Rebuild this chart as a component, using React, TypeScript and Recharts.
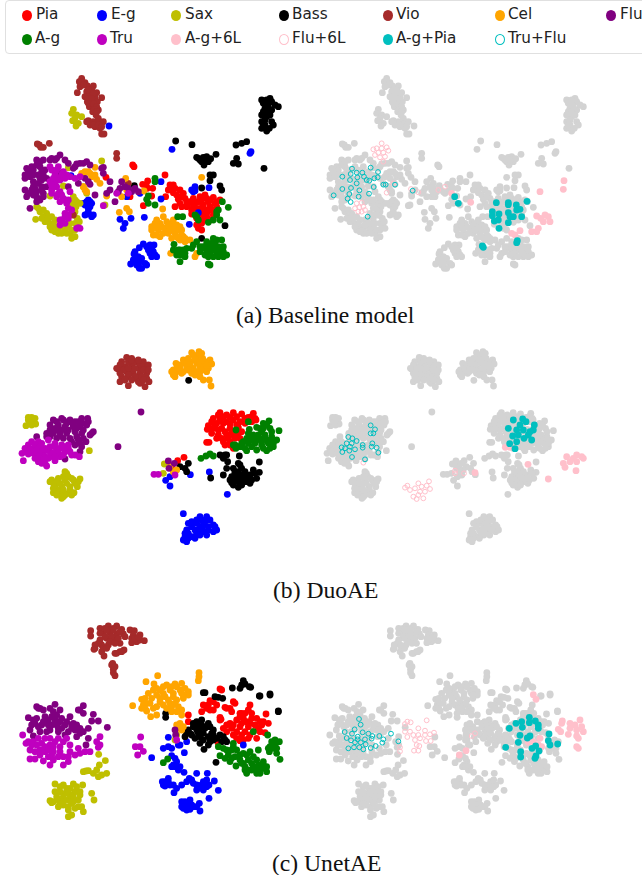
import { ScatterChart, Scatter, XAxis, YAxis } from 'recharts';

type Pt = [number, number];

// values, one list per class and model
const baselinePia: Pt[] = [[398,315],[402,320],[318,352],[443,363],[495,345],[428,373],[442,385],[458,385],[497,410],[430,437],[455,408],[510,375],[525,385],[540,390],[550,400],[530,405],[555,415],[540,430],[525,440],[560,440],[575,450],[585,430],[600,410],[620,415],[640,412],[660,420],[610,435],[630,440],[650,440],[600,455],[620,460],[640,465],[590,475],[610,480],[630,480],[590,495],[605,510],[515,510],[390,410],[570,425],[590,445],[625,425],[515,385],[505,390],[520,398],[535,418],[545,440],[565,430],[580,415],[595,425],[605,420],[615,405],[630,420],[650,425],[645,430],[600,445],[615,450],[630,450],[620,470],[640,450],[600,470],[605,490],[595,505],[575,462],[610,465],[560,425],[580,440],[520,375],[545,410],[440,380]];
const baselineEg: Pt[] = [[327,198],[516,268],[753,275],[750,280],[213,347],[265,420],[255,435],[275,430],[265,445],[255,465],[275,470],[270,425],[360,478],[393,475],[375,490],[370,505],[433,472],[483,417],[483,365],[585,380],[580,395],[627,383],[595,458],[568,493],[380,410],[420,400],[430,552],[418,563],[450,555],[462,555],[445,570],[460,575],[470,590],[402,582],[410,600],[392,612],[420,605],[435,610],[425,625],[440,615],[260,425],[250,430],[265,455],[270,440],[262,462],[280,465],[575,390],[585,392],[440,560],[455,565],[450,580],[465,585],[415,590],[400,600],[410,615],[425,595],[418,625],[405,575],[415,610],[455,590]];
const baselineSax: Pt[] = [[220,148],[215,160],[230,165],[225,175],[245,170],[218,182],[235,190],[228,198],[110,440],[120,455],[107,478],[130,470],[140,460],[155,470],[135,485],[150,490],[165,480],[170,500],[155,510],[175,520],[195,510],[210,520],[220,530],[205,500],[225,490],[232,475],[225,455],[220,440],[230,425],[220,410],[240,430],[225,530],[305,303],[190,378],[150,408],[205,323],[315,435],[260,400],[250,380],[130,450],[115,445],[145,475],[160,495],[175,510],[185,520],[200,520],[215,510],[190,500],[210,490],[225,510],[150,500],[165,515],[225,420],[215,430],[228,440],[222,465],[238,485],[215,535],[125,475]];
const baselineBass: Pt[] = [[527,243],[576,254],[740,245],[725,250],[708,255],[648,283],[595,295],[610,292],[620,290],[605,305],[625,305],[612,315],[710,295],[700,310],[715,312],[792,325],[640,345],[630,345],[630,362],[605,384],[660,378],[665,390],[675,497],[605,535],[403,377],[810,115],[785,120],[800,130],[815,125],[835,140],[795,145],[815,150],[785,165],[800,170],[785,185],[815,185],[795,195],[820,195],[785,205],[800,213],[800,120],[790,130],[805,140],[825,135],[790,155],[800,155],[810,165],[795,180],[790,195],[808,205],[600,300],[615,300],[632,296],[590,292]];
const baselineVio: Pt[] = [[245,55],[238,65],[255,68],[240,80],[262,78],[232,98],[280,78],[260,95],[275,90],[290,98],[255,110],[270,108],[285,112],[305,113],[262,125],[275,125],[292,125],[268,140],[283,140],[278,155],[295,150],[288,165],[265,182],[280,185],[295,175],[270,195],[285,200],[300,190],[310,185],[300,205],[312,222],[118,255],[130,262],[148,250],[350,280],[350,295],[385,370],[220,465],[245,65],[250,75],[265,90],[280,100],[265,115],[275,115],[265,130],[280,132],[290,140],[283,148],[290,155],[270,190],[290,190],[280,195],[295,195],[305,200],[260,185],[305,222],[122,262],[112,252]];
const baselineCel: Pt[] = [[250,345],[265,335],[285,322],[275,350],[290,358],[300,370],[250,380],[260,395],[320,408],[377,355],[380,390],[365,410],[432,393],[380,445],[388,455],[358,457],[488,447],[605,352],[490,470],[465,490],[480,490],[500,485],[455,500],[475,510],[495,505],[515,490],[530,495],[545,510],[525,520],[505,520],[480,530],[460,525],[535,535],[550,530],[570,540],[555,545],[540,540],[512,580],[585,590],[590,580],[470,480],[485,500],[505,495],[520,505],[535,510],[470,500],[490,520],[510,510],[470,525],[455,510],[545,525],[560,540],[530,530],[515,535],[520,480],[540,500],[555,535],[245,340],[255,335],[270,340],[285,345],[255,390]];
const baselineFlu: Pt[] = [[75,345],[80,325],[95,320],[110,300],[130,300],[120,320],[135,330],[115,345],[90,350],[100,365],[125,360],[140,355],[75,390],[85,400],[105,385],[125,380],[130,400],[110,410],[120,420],[90,445],[155,295],[180,285],[195,300],[165,300],[175,337],[220,325],[240,310],[260,305],[270,315],[305,325],[310,340],[255,355],[270,373],[235,370],[205,380],[285,405],[330,365],[330,390],[355,395],[375,380],[395,395],[415,395],[345,425],[365,365],[140,380],[100,330],[110,315],[125,335],[100,345],[120,355],[130,345],[115,370],[100,380],[95,390],[110,395],[125,390],[80,410],[100,405],[130,410],[110,425],[75,355],[85,335],[170,295],[150,300],[205,310],[225,320],[230,312],[250,310],[265,365],[310,322],[320,400],[405,385],[360,385],[385,385],[120,305]];
const baselineAg: Pt[] = [[465,355],[465,365],[445,408],[445,430],[465,435],[533,470],[548,470],[585,465],[595,480],[655,450],[650,465],[640,480],[625,487],[667,425],[685,442],[660,480],[522,553],[590,545],[535,570],[550,570],[575,565],[540,585],[555,590],[540,605],[605,565],[625,555],[640,535],[665,540],[670,560],[620,575],[640,570],[660,575],[680,585],[625,590],[655,590],[625,612],[610,560],[635,550],[540,570],[560,565],[530,585],[600,575],[615,560],[630,565],[645,555],[655,560],[650,540],[670,575],[630,580],[615,585],[640,590],[660,585],[600,560],[620,545],[640,545],[650,575],[670,590],[630,615],[520,570],[580,555],[555,580],[590,470],[650,455],[440,418]];
const baselineTru: Pt[] = [[150,320],[175,320],[190,335],[165,345],[200,345],[225,355],[150,365],[165,370],[180,395],[155,390],[170,410],[190,415],[210,395],[200,430],[195,470],[215,450],[185,490],[205,475],[235,503],[310,437],[385,400],[350,400],[180,480],[155,330],[170,330],[185,345],[160,355],[175,355],[195,355],[210,350],[155,375],[170,380],[175,400],[185,405],[155,400],[180,425],[195,420],[205,420],[205,445],[195,460],[185,480],[195,490],[205,465],[180,495],[230,505],[240,505],[180,360],[240,350]];

const duoPia: Pt[] = [[660,218],[680,225],[700,218],[725,222],[760,220],[640,235],[660,240],[680,245],[700,240],[720,245],[745,232],[768,240],[625,257],[645,260],[665,265],[690,265],[715,262],[635,280],[655,285],[680,285],[700,285],[725,275],[670,305],[690,305],[620,307],[627,307],[533,362],[552,352],[515,380],[700,325],[655,225],[670,230],[690,232],[710,230],[735,235],[755,230],[650,250],[670,250],[690,252],[710,255],[735,250],[755,245],[630,265],[655,270],[675,275],[695,275],[650,295],[665,295],[685,295],[705,295],[675,315],[690,315],[765,235],[720,295],[635,245],[622,268],[640,265],[715,280]];
const duoEg: Pt[] = [[550,521],[682,463],[628,396],[571,404],[510,438],[497,421],[510,410],[600,530],[620,530],[630,540],[565,550],[590,550],[610,555],[645,560],[560,570],[585,570],[610,575],[640,575],[555,590],[575,590],[600,585],[560,605],[620,585],[575,545],[590,540],[605,540],[615,545],[640,555],[575,560],[600,560],[625,560],[650,570],[565,580],[595,575],[625,570],[550,600],[565,595],[585,595],[590,580],[605,565],[555,580]];
const duoSax: Pt[] = [[95,232],[85,240],[100,245],[78,257],[95,255],[107,252],[268,332],[490,400],[493,372],[200,400],[175,415],[155,420],[195,420],[220,420],[240,417],[165,440],[185,440],[210,440],[232,440],[160,458],[180,460],[205,460],[222,458],[185,475],[520,395],[195,395],[190,410],[205,410],[215,415],[170,425],[180,430],[200,430],[225,430],[170,450],[190,450],[210,450],[235,425],[160,430],[150,425],[170,465],[195,465],[215,465],[190,470],[160,445],[85,232],[105,235],[90,248]];
const duoBass: Pt[] = [[566,121],[660,345],[680,345],[718,348],[670,355],[683,365],[778,366],[715,370],[700,385],[725,385],[680,385],[670,405],[760,390],[778,397],[705,400],[730,405],[750,405],[695,428],[715,425],[740,425],[770,415],[715,442],[750,430],[565,370],[555,385],[560,395],[632,414],[540,380],[720,375],[705,395],[715,395],[735,395],[695,410],[710,410],[720,410],[740,410],[705,420],[725,420],[700,435],[725,435],[755,420],[745,415],[765,400],[670,350],[675,345],[730,415],[690,420]];
const duoVio: Pt[] = [[380,52],[395,55],[365,65],[410,65],[430,65],[355,88],[375,80],[395,75],[415,85],[440,85],[380,95],[400,100],[420,100],[440,100],[365,110],[385,110],[410,115],[360,125],[385,137],[425,125],[447,125],[435,140],[415,125],[395,90],[385,65],[400,65],[420,75],[430,80],[360,75],[370,90],[385,85],[405,85],[430,90],[445,75],[385,105],[405,110],[425,110],[375,120],[440,115],[360,100],[350,85],[395,60],[415,60],[445,90],[420,130],[430,120],[395,120]];
const duoCel: Pt[] = [[575,38],[597,35],[590,50],[608,55],[630,60],[550,60],[528,70],[570,65],[590,70],[610,75],[625,85],[520,90],[540,85],[560,80],[580,85],[600,95],[520,105],[545,100],[575,100],[595,105],[610,120],[628,120],[633,138],[635,72],[510,380],[530,390],[520,395],[580,45],[600,45],[585,60],[600,65],[615,65],[540,75],[555,70],[570,75],[600,80],[615,85],[530,95],[550,95],[565,90],[590,95],[605,90],[530,85],[585,105],[600,110],[620,75],[620,95],[515,95],[525,110],[565,55],[605,40]];
const duoFlu: Pt[] = [[423,216],[354,320],[185,235],[205,245],[245,235],[263,235],[160,240],[150,255],[175,255],[195,260],[220,255],[240,260],[260,255],[280,275],[270,285],[140,280],[160,280],[180,285],[200,280],[225,275],[245,280],[258,305],[240,310],[225,315],[240,335],[110,290],[195,357],[215,305],[505,363],[523,370],[507,385],[170,245],[190,240],[210,240],[225,245],[235,245],[250,250],[165,265],[185,270],[205,270],[230,265],[250,270],[150,270],[170,270],[140,290],[170,295],[190,295],[210,295],[230,290],[250,295],[235,300],[245,320],[220,260],[200,250],[265,245],[275,280],[150,290]];
const duoAg: Pt[] = [[745,245],[708,270],[748,268],[770,262],[790,250],[807,243],[837,272],[810,265],[785,275],[760,285],[740,295],[790,295],[815,290],[830,300],[705,315],[725,310],[745,310],[765,310],[785,315],[805,310],[820,320],[708,325],[740,332],[770,330],[800,332],[603,355],[618,348],[630,342],[640,348],[745,280],[755,290],[775,285],[795,285],[815,275],[790,265],[800,255],[775,295],[760,300],[730,305],[750,300],[770,300],[800,300],[815,300],[820,310],[810,325],[790,325],[755,320],[725,320],[715,320],[735,325],[700,315],[785,305],[780,265]];
const duoTru: Pt[] = [[95,305],[115,305],[75,325],[66,340],[85,342],[70,362],[100,325],[125,310],[145,300],[165,310],[185,315],[205,315],[110,345],[130,340],[150,335],[170,330],[195,335],[115,365],[135,370],[140,378],[165,362],[150,350],[180,350],[215,345],[238,350],[120,355],[462,403],[475,403],[525,405],[85,315],[105,315],[120,320],[135,325],[150,320],[165,320],[180,325],[195,320],[90,330],[110,330],[125,335],[140,330],[160,340],[175,340],[190,325],[80,335],[120,345],[135,350],[100,340],[130,360],[145,355],[165,350],[205,325],[225,345],[210,335],[190,345],[125,370],[105,355]];

const unetPia: Pt[] = [[660,237],[630,272],[610,285],[650,285],[700,275],[605,305],[630,300],[680,295],[695,305],[565,315],[565,335],[663,328],[720,310],[745,300],[750,285],[798,312],[690,340],[710,330],[730,325],[755,325],[780,335],[805,340],[670,355],[695,355],[720,350],[745,350],[775,355],[795,368],[700,375],[725,375],[750,375],[720,392],[655,400],[770,385],[625,285],[640,275],[620,295],[640,300],[675,292],[690,295],[705,280],[660,330],[725,310],[735,310],[720,320],[740,335],[755,310],[750,340],[770,325],[790,335],[680,345],[700,345],[725,340],[765,345],[785,345],[680,365],[710,365],[735,365],[760,365],[710,385],[730,390],[745,385],[665,240],[660,322],[780,365]];
const unetEg: Pt[] = [[505,382],[490,415],[515,415],[535,405],[560,395],[553,428],[515,437],[455,443],[730,405],[530,455],[515,470],[540,470],[552,487],[590,490],[622,490],[568,505],[643,513],[487,515],[505,515],[495,528],[520,525],[545,525],[580,520],[610,515],[627,525],[522,548],[590,540],[610,540],[655,541],[627,565],[545,575],[570,570],[598,580],[550,595],[570,598],[600,603],[525,445],[520,465],[535,480],[495,515],[490,525],[510,525],[505,505],[530,535],[560,515],[575,510],[595,530],[605,525],[620,510],[590,525],[555,575],[560,585],[575,585],[590,590],[545,590],[560,600],[580,590],[540,405],[505,410],[525,470],[620,530]];
const unetSax: Pt[] = [[296,433],[316,452],[298,465],[258,483],[250,485],[280,490],[305,495],[320,490],[165,522],[190,525],[220,522],[248,525],[165,545],[195,550],[225,545],[275,550],[150,572],[175,570],[205,570],[235,570],[282,570],[175,590],[205,590],[235,590],[250,605],[215,615],[205,620],[525,390],[530,375],[180,530],[200,535],[210,535],[230,530],[180,545],[210,555],[170,560],[190,560],[220,560],[240,555],[160,575],[190,575],[220,575],[190,585],[215,580],[225,595],[245,590],[180,580],[205,600],[265,482],[290,480],[295,500],[205,545],[240,545],[155,578]];
const unetBass: Pt[] = [[730,212],[697,234],[720,235],[748,230],[610,248],[645,260],[668,265],[778,258],[810,252],[835,303],[497,310],[497,322],[605,330],[580,340],[625,340],[565,360],[590,360],[615,355],[640,360],[575,375],[600,380],[625,380],[650,385],[670,380],[680,395],[600,400],[625,405],[612,418],[648,457],[560,370],[725,225],[735,222],[752,232],[615,248],[655,262],[810,255],[780,258],[835,305],[590,335],[605,345],[620,350],[580,350],[570,370],[595,370],[610,370],[635,370],[555,380],[585,385],[640,375],[660,375],[610,390],[630,395],[640,390],[665,395],[675,390],[595,345],[600,355],[630,350]];
const unetVio: Pt[] = [[272,62],[272,78],[300,55],[325,48],[350,48],[365,58],[310,70],[330,68],[350,72],[370,72],[390,60],[403,62],[420,75],[433,92],[395,85],[410,95],[320,85],[345,90],[285,115],[305,105],[325,105],[360,100],[305,125],[312,138],[345,130],[372,120],[360,125],[338,160],[340,178],[345,197],[315,55],[340,55],[360,65],[340,60],[320,60],[300,70],[315,80],[335,80],[355,85],[375,80],[300,90],[330,95],[345,100],[295,100],[285,105],[310,115],[320,115],[400,75],[395,98],[420,90],[405,85],[415,82],[350,130],[365,125],[335,165],[345,170],[340,188],[282,118]];
const unetCel: Pt[] = [[597,188],[595,212],[438,215],[473,197],[462,222],[500,225],[525,222],[545,220],[480,240],[510,240],[540,240],[565,245],[445,250],[470,255],[495,260],[520,260],[550,265],[425,268],[398,287],[430,285],[450,280],[480,275],[510,280],[535,290],[440,303],[470,315],[452,320],[515,305],[545,300],[540,340],[535,355],[550,350],[490,230],[515,230],[530,230],[555,235],[460,240],[470,235],[490,250],[520,250],[545,250],[565,255],[455,265],[480,265],[505,270],[530,270],[550,255],[435,265],[440,280],[460,295],[490,285],[515,290],[530,305],[425,295],[435,295],[470,290],[545,315],[530,345],[545,360],[597,200],[525,280],[500,295]];
const unetFlu: Pt[] = [[110,290],[120,295],[165,283],[250,287],[150,295],[180,300],[235,300],[250,310],[280,313],[85,323],[110,325],[135,320],[155,320],[185,325],[210,320],[275,333],[295,333],[322,352],[90,360],[115,350],[145,345],[170,345],[195,345],[230,345],[265,355],[100,378],[175,365],[205,365],[240,370],[265,385],[258,405],[525,360],[527,375],[130,300],[160,305],[170,315],[145,330],[165,330],[180,335],[200,335],[220,340],[240,355],[130,335],[105,340],[95,345],[120,365],[150,360],[185,355],[215,355],[250,365],[225,360],[100,330],[125,345],[140,365],[195,375],[230,380],[115,295],[155,345],[175,355],[240,300],[215,345]];
const unetAg: Pt[] = [[760,365],[803,375],[838,395],[825,405],[808,425],[840,448],[830,430],[810,410],[655,410],[670,415],[700,400],[660,437],[685,435],[710,420],[730,430],[750,425],[775,420],[690,455],[720,450],[708,468],[745,450],[770,450],[790,455],[735,470],[760,470],[785,475],[800,485],[740,490],[770,490],[490,458],[503,447],[700,410],[695,420],[680,420],[720,435],[740,435],[760,440],[675,445],[695,445],[705,440],[730,460],[755,460],[775,465],[745,480],[790,465],[780,490],[755,480],[735,480],[770,480],[725,460],[820,415],[815,395],[830,415],[805,415],[825,390],[790,475],[800,470]];
const unetTru: Pt[] = [[68,375],[78,400],[100,395],[125,400],[150,385],[175,385],[300,380],[290,395],[295,412],[90,420],[120,420],[150,405],[180,410],[210,405],[235,415],[270,425],[90,447],[105,447],[130,453],[155,437],[190,440],[225,435],[150,465],[190,465],[205,455],[422,381],[406,410],[420,410],[430,424],[413,435],[530,390],[115,385],[135,385],[110,405],[135,410],[165,395],[160,410],[190,395],[200,385],[105,425],[135,425],[160,425],[180,425],[210,425],[240,430],[120,435],[145,440],[175,440],[205,440],[95,405],[85,395],[160,450],[255,425],[145,420],[300,405]];

// highlighted classes of the right hand plots
const baselineAg6L: Pt[] = [[732,362],[730,388],[660,395],[452,427],[395,400],[675,465],[650,468],[662,475],[685,470],[670,485],[690,485],[655,505],[635,515],[650,515],[575,520],[600,512],[585,525]];
const baselineFlu6L: Pt[] = [[185,250],[160,268],[170,265],[185,265],[200,262],[175,278],[190,278],[205,272],[165,285],[180,292],[195,290],[190,305],[110,430],[125,428],[105,445],[118,442],[130,440],[115,455],[125,455],[135,450],[220,370],[200,398],[273,387],[295,397],[355,390],[375,380]];
const baselineAgPia: Pt[] = [[404,410],[415,430],[529,428],[565,428],[565,434],[589,435],[621,424],[590,450],[600,448],[517,455],[517,467],[537,462],[565,458],[570,470],[580,470],[605,470],[523,483],[535,480],[565,488],[537,505],[487,558],[490,562],[592,542],[590,548]];
const baselineTruFlu: Pt[] = [[96,326],[152,323],[174,336],[67,350],[92,342],[110,338],[127,338],[112,352],[90,360],[132,350],[140,360],[148,362],[163,355],[173,352],[110,370],[67,387],[93,384],[118,391],[161,381],[190,374],[197,374],[225,374],[41,406],[88,402],[116,410],[147,401],[83,416],[92,426],[143,470],[278,392]];

const duoAg6L: Pt[] = [[465,398],[556,322],[570,322],[624,373],[685,417],[740,350],[770,345],[785,350],[730,370],[750,365],[770,365],[790,355],[735,382],[768,392],[760,355]];
const duoFlu6L: Pt[] = [[130,368],[327,424],[330,447],[320,437],[262,437],[255,443],[270,450],[295,430],[305,440],[285,445],[300,455],[315,455],[280,470],[290,477],[310,475],[295,465],[405,400],[432,400],[405,392]];
const duoAgPia: Pt[] = [[580,240],[608,237],[618,245],[565,265],[600,255],[643,255],[590,270],[610,270],[630,275],[578,288],[595,285],[640,270],[612,295],[635,300],[590,305],[569,311],[585,326],[625,285]];
const duoTruFlu: Pt[] = [[152,256],[165,268],[160,280],[152,280],[85,291],[97,295],[110,303],[80,310],[95,310],[65,322],[75,325],[90,320],[105,328],[128,315],[128,323],[157,310],[155,320],[170,323],[88,332],[67,336],[175,338],[96,351],[135,358]];

const unetAg6L: Pt[] = [[640,254],[648,268],[727,333],[725,340],[715,358],[722,365],[780,330],[750,340],[765,345],[785,350],[750,355],[770,360],[790,365],[745,373],[770,378],[775,385],[770,410],[775,415],[660,385],[640,395],[625,397],[655,405],[665,410],[418,435],[438,422]];
const unetFlu6L: Pt[] = [[262,335],[272,337],[320,331],[255,342],[255,365],[270,365],[295,355],[315,362],[342,368],[262,381],[280,375],[295,375],[315,375],[330,373],[285,390],[300,385],[318,393],[332,393],[290,405],[298,408],[240,412],[240,424],[282,422],[295,422],[455,378],[465,370]];
const unetAgPia: Pt[] = [[628,322],[588,340],[605,335],[646,333],[628,338],[607,352],[655,345],[568,355],[655,355],[600,376],[630,378],[622,384],[687,372],[595,397],[685,392],[690,405],[713,402],[557,412],[636,415],[647,408],[657,423],[602,425],[602,441],[648,438],[645,445]];
const unetTruFlu: Pt[] = [[117,327],[122,344],[104,358],[74,366],[96,371],[128,367],[145,371],[157,378],[178,378],[213,371],[80,384],[93,391],[113,380],[113,388],[135,388],[155,386],[190,388],[187,398],[235,394],[105,397],[122,397],[137,403],[167,408],[85,415],[102,412],[118,412],[130,418],[152,414]];

const legendRow1 = [
  { name: 'Pia', color: 'red', mark: 27, text: 36 },
  { name: 'E-g', color: 'blue', mark: 102, text: 111 },
  { name: 'Sax', color: '#bfbf00', mark: 176, text: 185 },
  { name: 'Bass', color: 'black', mark: 284, text: 292 },
  { name: 'Vio', color: 'brown', mark: 388, text: 396 },
  { name: 'Cel', color: 'orange', mark: 500, text: 508 },
  { name: 'Flu', color: 'purple', mark: 611, text: 620 },
];
const legendRow2 = [
  { name: 'A-g', color: 'green', mark: 27, text: 35 },
  { name: 'Tru', color: '#bf00bf', mark: 102, text: 110 },
  { name: 'A-g+6L', color: 'pink', mark: 176, text: 185 },
  { name: 'Flu+6L', color: 'pink', mark: 284, text: 292, hollow: true },
  { name: 'A-g+Pia', color: '#00bfbf', mark: 388, text: 396 },
  { name: 'Tru+Flu', color: '#00bfbf', mark: 500, text: 508, hollow: true },
];

const toData = (pts: Pt[]) => pts.map(([x, y]) => ({ x, y }));

const dot = (color: string) => (p: any) => <circle cx={p.cx} cy={p.cy} r={3.4} fill={color} />;
const ring = (color: string) => (p: any) => <circle cx={p.cx} cy={p.cy} r={2.4} fill="none" stroke={color} strokeWidth={1} />;

type Model = {
  top: number;
  grayDomain: [number, number];
  caption: string;
  captionX: number;
  captionY: number;
  classes: [Pt[], string][];
  ag6l: Pt[];
  flu6l: Pt[];
  agPia: Pt[];
  truFlu: Pt[];
};

const makeClasses = (pia: Pt[], eg: Pt[], sax: Pt[], bass: Pt[], vio: Pt[], cel: Pt[], flu: Pt[], ag: Pt[], tru: Pt[]): [Pt[], string][] => [
  [pia, 'red'], [eg, 'blue'], [sax, '#bfbf00'], [bass, 'black'], [vio, 'brown'],
  [cel, 'orange'], [flu, 'purple'], [ag, 'green'], [tru, '#bf00bf'],
];

const models: Model[] = [
  {
    top: 60, grayDomain: [45, 1005], caption: '(a) Baseline model', captionX: 236, captionY: 304,
    classes: makeClasses(baselinePia, baselineEg, baselineSax, baselineBass, baselineVio, baselineCel, baselineFlu, baselineAg, baselineTru),
    ag6l: baselineAg6L, flu6l: baselineFlu6L, agPia: baselineAgPia, truFlu: baselineTruFlu,
  },
  {
    top: 340, grayDomain: [42, 1132], caption: '(b) DuoAE', captionX: 273, captionY: 579,
    classes: makeClasses(duoPia, duoEg, duoSax, duoBass, duoVio, duoCel, duoFlu, duoAg, duoTru),
    ag6l: duoAg6L, flu6l: duoFlu6L, agPia: duoAgPia, truFlu: duoTruFlu,
  },
  {
    top: 610, grayDomain: [35, 1113], caption: '(c) UnetAE', captionX: 272, captionY: 852,
    classes: makeClasses(unetPia, unetEg, unetSax, unetBass, unetVio, unetCel, unetFlu, unetAg, unetTru),
    ag6l: unetAg6L, flu6l: unetFlu6L, agPia: unetAgPia, truFlu: unetTruFlu,
  },
];

const margin = { top: 0, right: 0, bottom: 0, left: 0 };

function ColorPlot({ model }: { model: Model }) {
  return (
    <div style={{ position: 'absolute', left: 0, top: model.top }}>
      <ScatterChart width={320} height={220} margin={margin}>
        <XAxis type="number" dataKey="x" domain={[0, 960]} hide allowDataOverflow />
        <YAxis type="number" dataKey="y" domain={[0, 660]} reversed hide allowDataOverflow />
        {model.classes.map(([pts, color], i) => (
          <Scatter key={i} data={toData(pts)} shape={dot(color)} isAnimationActive={false} />
        ))}
      </ScatterChart>
    </div>
  );
}

function HighlightPlot({ model }: { model: Model }) {
  return (
    <div style={{ position: 'absolute', left: 320, top: model.top }}>
      <ScatterChart width={320} height={220} margin={margin}>
        <XAxis xAxisId="all" type="number" dataKey="x" domain={model.grayDomain} hide allowDataOverflow />
        <XAxis xAxisId="hl" type="number" dataKey="x" domain={[0, 960]} hide allowDataOverflow />
        <YAxis type="number" dataKey="y" domain={[0, 660]} reversed hide allowDataOverflow />
        {model.classes.map(([pts], i) => (
          <Scatter key={i} xAxisId="all" data={toData(pts)} shape={dot('lightgray')} isAnimationActive={false} />
        ))}
        <Scatter xAxisId="hl" data={toData(model.flu6l)} shape={ring('pink')} isAnimationActive={false} />
        <Scatter xAxisId="hl" data={toData(model.ag6l)} shape={dot('pink')} isAnimationActive={false} />
        <Scatter xAxisId="hl" data={toData(model.agPia)} shape={dot('#00bfbf')} isAnimationActive={false} />
        <Scatter xAxisId="hl" data={toData(model.truFlu)} shape={ring('#00bfbf')} isAnimationActive={false} />
      </ScatterChart>
    </div>
  );
}

function LegendRow({ items, y }: { items: typeof legendRow2; y: number }) {
  return (
    <>
      {items.map((it) => (
        <div key={it.name}>
          <div style={{
            position: 'absolute', left: it.mark - 5, top: y - 5.5, width: 10, height: 11, borderRadius: '50%', boxSizing: 'border-box',
            background: it.hollow ? 'white' : it.color, border: it.hollow ? `1px solid ${it.color}` : 'none',
          }} />
          <div style={{
            position: 'absolute', left: it.text, top: y - 11, fontFamily: 'DejaVu Sans', fontSize: 16, lineHeight: '20px', color: '#222',
            transform: 'scaleX(0.95)', transformOrigin: 'left', whiteSpace: 'nowrap',
          }}>{it.name}</div>
        </div>
      ))}
    </>
  );
}

export default function App() {
  return (
    <div style={{ position: 'absolute', left: 0, top: 0, width: 642, height: 875, overflow: 'hidden', background: 'white' }}>
      <div style={{ position: 'absolute', left: 5, top: 0, width: 700, height: 52, border: '1px solid #e0e0e0', borderRadius: 4 }} />
      <LegendRow items={legendRow1} y={15} />
      <LegendRow items={legendRow2} y={39} />
      {models.map((m) => (
        <div key={m.caption}>
          <ColorPlot model={m} />
          <HighlightPlot model={m} />
          <div style={{ position: 'absolute', left: m.captionX, top: m.captionY, fontFamily: 'Liberation Serif', fontSize: 23.6, lineHeight: '23px', whiteSpace: 'nowrap', color: '#111' }}>{m.caption}</div>
        </div>
      ))}
    </div>
  );
}
